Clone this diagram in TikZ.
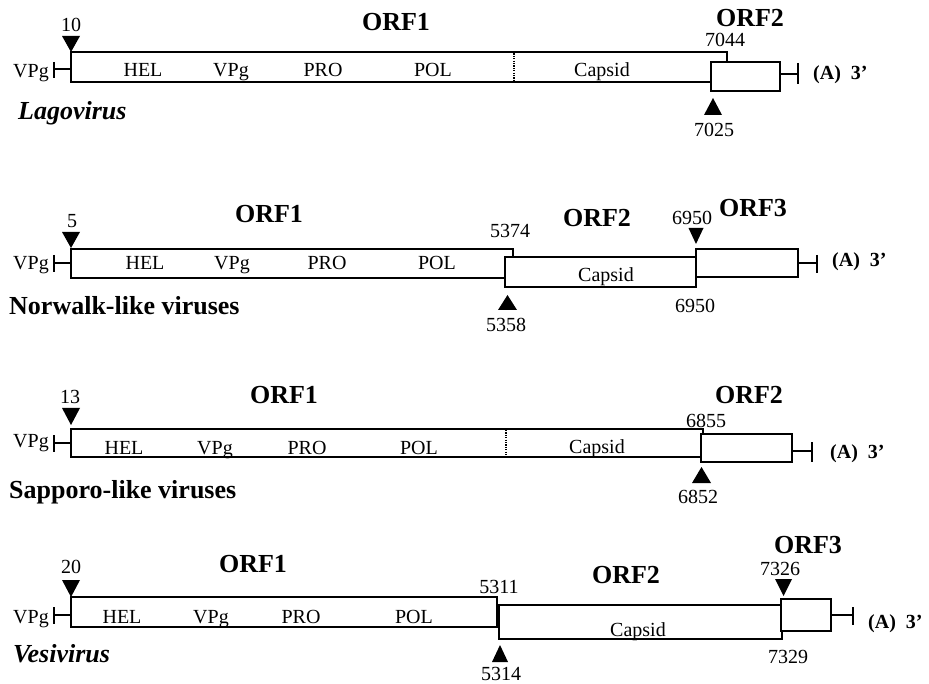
\documentclass[tikz,border=0pt]{standalone}
\usepackage{fontspec}
\setmainfont{Liberation Serif}
\begin{document}
\begin{tikzpicture}[x=1pt,y=-1pt,
  lbl/.style={font=\fontsize{20}{24}\selectfont, inner sep=0pt, anchor=base},
  orf/.style={font=\bfseries\fontsize{26}{30}\selectfont, inner sep=0pt, anchor=base},
  species/.style={font=\bfseries\fontsize{26}{30}\selectfont, inner sep=0pt, anchor=base west},
  polya/.style={font=\bfseries\fontsize{20}{24}\selectfont, inner sep=0pt, anchor=base west},
  genebox/.style={draw, fill=white, line width=2pt},
  ln/.style={line width=2pt},
  dots/.style={line width=1.2pt, dash pattern=on 1.2pt off 1.2pt},
  tri/.style={fill=black}]
\useasboundingbox (0,0) rectangle (929,684);

%% ---------------- Row 1: Lagovirus ----------------
\draw[genebox] (71,52.5) rectangle (727,82.5);
\draw[genebox] (711,62) rectangle (780,91);
\draw[dots] (514,53.5) -- (514,81.5);
\coordinate (l1a) at (54,69); \coordinate (l1b) at (71,69);
\draw[ln] (l1a) -- (l1b); \draw[ln] (54,62) -- (54,78);
\coordinate (r1a) at (780,74); \coordinate (r1b) at (798,74);
\draw[ln] (r1a) -- (r1b); \draw[ln] (798,63) -- (798,84);
\fill[tri] (62,36) -- (80,36) -- (71,52) -- cycle;
\fill[tri] (704,115) -- (722,115) -- (713,98) -- cycle;
\node[lbl] (n10) at (71,32) {10};
\node[orf] (o11) at (396,30.5) {ORF1};
\node[orf] (o12) at (750,27) {ORF2};
\node[lbl] (n7044) at (725,47) {7044};
\node[lbl] (v1) at (31,78) {VPg};
\node[lbl] (h1) at (143,77) {HEL};
\node[lbl] (p1) at (231,77) {VPg};
\node[lbl] (pr1) at (323,77) {PRO};
\node[lbl] (po1) at (433,77) {POL};
\node[lbl] (c1) at (602,77) {Capsid};
\node[polya] (a1) at (813,80) {(A)~~3’};
\node[lbl] (n7025) at (714,137) {7025};
\node[species] (s1) at (18,120) {\itshape Lagovirus};

%% ---------------- Row 2: Norwalk-like ----------------
\draw[genebox] (71,249) rectangle (513,278);
\draw[genebox] (505,257) rectangle (696,287);
\draw[genebox] (696,249) rectangle (798,277);
\coordinate (l2a) at (54,263); \coordinate (l2b) at (71,263);
\draw[ln] (l2a) -- (l2b); \draw[ln] (54,255) -- (54,272);
\coordinate (r2a) at (798,263); \coordinate (r2b) at (817,263);
\draw[ln] (r2a) -- (r2b); \draw[ln] (817,255) -- (817,273);
\fill[tri] (62,232) -- (80,232) -- (71,248) -- cycle;
\fill[tri] (498,310) -- (517,310) -- (507.5,295) -- cycle;
\fill[tri] (688.5,228) -- (703.5,228) -- (696,244) -- cycle;
\node[lbl] (n5) at (72,228) {5};
\node[orf] (o21) at (269,223) {ORF1};
\node[lbl] (n5374) at (510,238) {5374};
\node[orf] (o22) at (597,227) {ORF2};
\node[lbl] (n6950a) at (692,225) {6950};
\node[orf] (o23) at (753,217) {ORF3};
\node[lbl] (v2) at (31,270) {VPg};
\node[lbl] (h2) at (145,270) {HEL};
\node[lbl] (p2) at (232,270) {VPg};
\node[lbl] (pr2) at (327,270) {PRO};
\node[lbl] (po2) at (437,270) {POL};
\node[lbl] (c2) at (606,282) {Capsid};
\node[polya] (a2) at (832,267) {(A)~~3’};
\node[lbl] (n5358) at (506,332) {5358};
\node[lbl] (n6950b) at (695,313) {6950};
\node[species] (s2) at (9,315) {Norwalk-like viruses};

%% ---------------- Row 3: Sapporo-like ----------------
\draw[genebox] (71,429) rectangle (703,457);
\draw[genebox] (701,434) rectangle (792,462);
\draw[dots] (506,430) -- (506,456);
\coordinate (l3a) at (54,443); \coordinate (l3b) at (71,443);
\draw[ln] (l3a) -- (l3b); \draw[ln] (54,435) -- (54,452);
\coordinate (r3a) at (792,451); \coordinate (r3b) at (812,451);
\draw[ln] (r3a) -- (r3b); \draw[ln] (812,442) -- (812,462);
\fill[tri] (62,408) -- (80,408) -- (71,425) -- cycle;
\fill[tri] (692,483) -- (711,483) -- (701.5,467) -- cycle;
\node[lbl] (n13) at (70,403) {13};
\node[orf] (o31) at (284,403) {ORF1};
\node[orf] (o32) at (749,403) {ORF2};
\node[lbl] (n6855) at (706,428) {6855};
\node[lbl] (v3) at (31,447) {VPg};
\node[lbl] (h3) at (124,454) {HEL};
\node[lbl] (p3) at (215,454) {VPg};
\node[lbl] (pr3) at (307,454) {PRO};
\node[lbl] (po3) at (419,454) {POL};
\node[lbl] (c3) at (597,453) {Capsid};
\node[polya] (a3) at (830,458) {(A)~~3’};
\node[lbl] (n6852) at (698,503) {6852};
\node[species] (s3) at (9,498) {Sapporo-like viruses};

%% ---------------- Row 4: Vesivirus ----------------
\draw[genebox] (71,597) rectangle (497,627);
\draw[genebox] (499,605) rectangle (782,639);
\draw[genebox] (781,599) rectangle (831,631);
\coordinate (l4a) at (54,615); \coordinate (l4b) at (71,615);
\draw[ln] (l4a) -- (l4b); \draw[ln] (54,607) -- (54,624);
\coordinate (r4a) at (831,615); \coordinate (r4b) at (853,615);
\draw[ln] (r4a) -- (r4b); \draw[ln] (853,607) -- (853,625);
\fill[tri] (62,580) -- (80,580) -- (71,597) -- cycle;
\fill[tri] (775,579) -- (792,579) -- (783.5,596) -- cycle;
\fill[tri] (492,662) -- (508,662) -- (500,645) -- cycle;
\node[lbl] (n20) at (71,573) {20};
\node[orf] (o41) at (253,572) {ORF1};
\node[lbl] (n5311) at (499,593) {5311};
\node[orf] (o42) at (626,583) {ORF2};
\node[lbl] (n7326) at (780,575) {7326};
\node[orf] (o43) at (808,553) {ORF3};
\node[lbl] (v4) at (31,623) {VPg};
\node[lbl] (h4) at (122,623) {HEL};
\node[lbl] (p4) at (211,623) {VPg};
\node[lbl] (pr4) at (301,623) {PRO};
\node[lbl] (po4) at (414,623) {POL};
\node[lbl] (c4) at (638,636) {Capsid};
\node[polya] (a4) at (868,628) {(A)~~3’};
\node[lbl] (n7329) at (788,663) {7329};
\node[lbl] (n5314) at (501,680) {5314};
\node[species] (s4) at (13,662) {\itshape Vesivirus};
\end{tikzpicture}
\end{document}
